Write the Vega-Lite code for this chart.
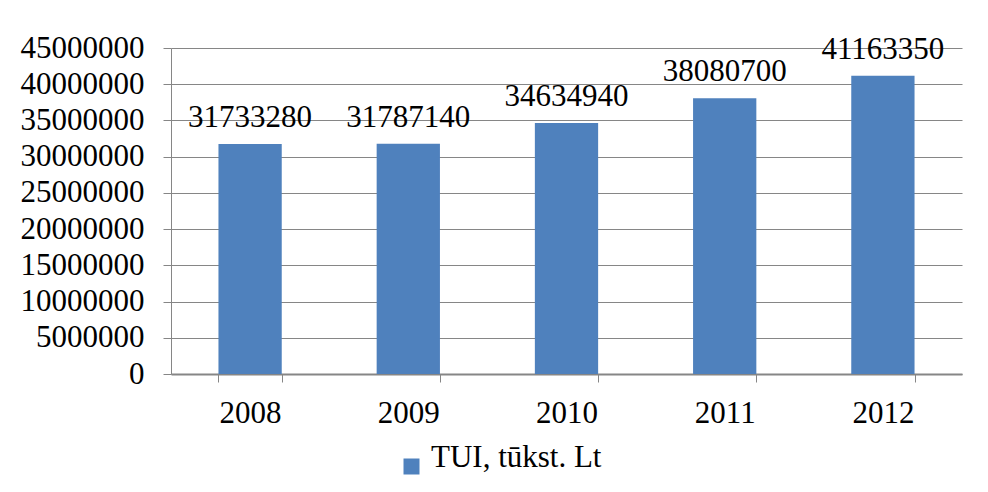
{
  "$schema": "https://vega.github.io/schema/vega-lite/v6.json",
  "width": 791,
  "height": 326,
  "autosize": {"type": "none"},
  "padding": {"left": 171, "top": 48, "right": 26, "bottom": 118},
  "background": "white",
  "data": {
    "values": [
      {"year": "2008", "value": 31733280, "series": "TUI, tūkst. Lt"},
      {"year": "2009", "value": 31787140, "series": "TUI, tūkst. Lt"},
      {"year": "2010", "value": 34634940, "series": "TUI, tūkst. Lt"},
      {"year": "2011", "value": 38080700, "series": "TUI, tūkst. Lt"},
      {"year": "2012", "value": 41163350, "series": "TUI, tūkst. Lt"}
    ]
  },
  "config": {
    "view": {"stroke": null},
    "font": "Liberation Serif",
    "axis": {
      "labelFont": "Liberation Serif",
      "labelFontSize": 31,
      "labelColor": "black",
      "domainColor": "#868686",
      "tickColor": "#868686",
      "gridColor": "#868686",
      "title": null
    },
    "legend": {
      "labelFont": "Liberation Serif",
      "labelFontSize": 31,
      "labelColor": "black",
      "labelLimit": 400,
      "padding": 0
    }
  },
  "encoding": {
    "x": {
      "field": "year",
      "type": "nominal",
      "scale": {"paddingInner": 0.6, "paddingOuter": 0.3},
      "axis": {
        "labelAngle": 0,
        "tickBand": "extent",
        "tickSize": 8,
        "tickWidth": 1,
        "domainWidth": 2,
        "labelPadding": 16,
        "grid": false
      }
    },
    "y": {
      "field": "value",
      "type": "quantitative",
      "scale": {"domain": [0, 45000000], "nice": false},
      "axis": {
        "values": [0, 5000000, 10000000, 15000000, 20000000, 25000000, 30000000, 35000000, 40000000, 45000000],
        "format": "d",
        "tickSize": 8,
        "tickWidth": 1,
        "domainWidth": 1,
        "gridWidth": 1.2,
        "labelPadding": 19
      }
    }
  },
  "layer": [
    {
      "mark": {"type": "bar"},
      "encoding": {
        "color": {
          "field": "series",
          "type": "nominal",
          "scale": {"range": ["#4F81BD"]},
          "legend": {
            "title": null,
            "orient": "none",
            "legendX": 225,
            "legendY": 403,
            "symbolType": "square",
            "symbolSize": 256,
            "symbolStrokeWidth": 0,
            "labelOffset": 4,
            "labelBaseline": "alphabetic"
          }
        }
      }
    },
    {
      "mark": {"type": "text", "baseline": "alphabetic", "dy": -17, "fontSize": 31, "font": "Liberation Serif", "color": "black"},
      "encoding": {
        "text": {"field": "value", "type": "quantitative", "format": "d"}
      }
    }
  ]
}
